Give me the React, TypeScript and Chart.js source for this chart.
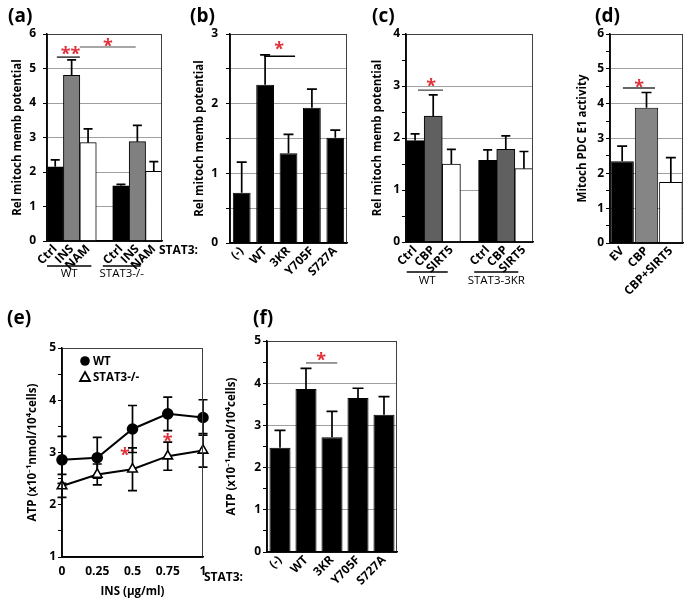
import React, { useEffect, useRef } from 'react';
import { Chart, registerables } from 'chart.js';

Chart.register(...registerables);

const FONT = '"Open Sans", Lato, "DejaVu Sans", sans-serif';
Chart.defaults.font.family = FONT;
Chart.defaults.color = '#000';

const BLACK = '#000000';
const WHITE = '#ffffff';
const GRAY_A = '#808080';
const GRAY_C = '#606060';
const GRAY_D = '#858585';
const RED = '#e0303a';
const GRID = '#a0a0a0';

// ---------- Panel (a)
const aLabels = ['Ctrl', 'INS', 'NAM', '', 'Ctrl', 'INS', 'NAM'];
const aMeans = [2.15, 4.8, 2.85, null, 1.6, 2.88, 2.02];
const aErr = [0.2, 0.45, 0.4, null, 0.04, 0.47, 0.28];
const aColors = [BLACK, GRAY_A, WHITE, WHITE, BLACK, GRAY_A, WHITE];
const aGroups = ['WT', 'STAT3-/-'];

// ---------- Panel (b)
const bLabels = ['(-)', 'WT', '3KR', 'Y705F', 'S727A'];
const bMeans = [0.72, 2.27, 1.29, 1.94, 1.51];
const bErr = [0.44, 0.43, 0.27, 0.27, 0.11];

// ---------- Panel (c)
const cLabels = ['Ctrl', 'CBP', 'SIRT5', '', 'Ctrl', 'CBP', 'SIRT5'];
const cMeans = [1.95, 2.42, 1.5, null, 1.57, 1.78, 1.41];
const cErr = [0.13, 0.41, 0.28, null, 0.2, 0.26, 0.33];
const cColors = [BLACK, GRAY_C, WHITE, WHITE, BLACK, GRAY_C, WHITE];
const cGroups = ['WT', 'STAT3-3KR'];

// ---------- Panel (d)
const dLabels = ['EV', 'CBP', 'CBP+SIRT5'];
const dMeans = [2.35, 3.88, 1.75];
const dErr = [0.43, 0.44, 0.7];
const dColors = [BLACK, GRAY_D, WHITE];

// ---------- Panel (e)
const eDose = [0, 0.25, 0.5, 0.75, 1];
const eDoseLabels = ['0', '0.25', '0.5', '0.75', '1'];
const eWT = [2.86, 2.9, 3.45, 3.74, 3.67];
const eWTErr = [0.45, 0.39, 0.45, 0.32, 0.34];
const eKO = [2.36, 2.58, 2.68, 2.93, 3.04];
const eKOErr = [0.22, 0.2, 0.41, 0.27, 0.32];
const eSeries = ['WT', 'STAT3-/-'];

// ---------- Panel (f)
const fLabels = ['(-)', 'WT', '3KR', 'Y705F', 'S727A'];
const fMeans = [2.47, 3.86, 2.72, 3.65, 3.25];
const fErr = [0.41, 0.49, 0.61, 0.23, 0.43];

const TICK_FONT = { size: 12, weight: 'bold' as const };
const TITLE_FONT = { size: 11.5, weight: 'bold' as const };

type Sig = { x1: number; x2: number; y: number; color: string };
type Star = { x: number; y: number; text: string };
type Group = { x1: number; x2: number; text: string };
type ErrSet = { ds: number; err: (number | null)[]; both: boolean; cap: number };
interface Decor {
  errors?: ErrSet[];
  errorsBefore?: boolean;
  sigs?: Sig[];
  stars?: Star[];
  groups?: Group[];
  groupLineDy?: number;
  groupTextDy?: number;
  prefix?: { text: string; dx: number; dy: number };
  legend?: { dx: number; dy: number; gap: number; items: { label: string; style: 'circle' | 'triangle' }[] };
}

function drawErrors(chart: any, sets: ErrSet[]) {
  const { ctx } = chart;
  const y = chart.scales.y;
  ctx.save();
  ctx.strokeStyle = '#000';
  ctx.lineWidth = 1.7;
  for (const s of sets) {
    const meta = chart.getDatasetMeta(s.ds);
    const data = chart.data.datasets[s.ds].data as any[];
    meta.data.forEach((el: any, i: number) => {
      const e = s.err[i];
      const raw = data[i];
      const v = raw == null ? null : typeof raw === 'number' ? raw : raw.y;
      if (e == null || v == null) return;
      const x = el.x;
      const yTop = y.getPixelForValue(v + e);
      const yBot = s.both ? y.getPixelForValue(v - e) : y.getPixelForValue(v);
      ctx.beginPath();
      ctx.moveTo(x, yBot);
      ctx.lineTo(x, yTop);
      ctx.moveTo(x - s.cap, yTop);
      ctx.lineTo(x + s.cap, yTop);
      if (s.both) {
        ctx.moveTo(x - s.cap, yBot);
        ctx.lineTo(x + s.cap, yBot);
      }
      ctx.stroke();
    });
  }
  ctx.restore();
}

function makeDecor(cfg: Decor) {
  return {
    id: 'decor',
    beforeDatasetsDraw(chart: any) {
      if (cfg.errors && cfg.errorsBefore) drawErrors(chart, cfg.errors);
    },
    afterDatasetsDraw(chart: any) {
      const { ctx, chartArea: a } = chart;
      const xs = chart.scales.x;
      const ys = chart.scales.y;
      if (cfg.errors && !cfg.errorsBefore) drawErrors(chart, cfg.errors);
      ctx.save();
      // frame
      ctx.strokeStyle = '#404040';
      ctx.lineWidth = 1;
      ctx.strokeRect(a.left, a.top + 0.5, a.right - a.left - 0.5, a.bottom - a.top);
      ctx.strokeStyle = '#000';
      ctx.lineWidth = 1.5;
      ctx.beginPath();
      ctx.moveTo(a.left, a.top);
      ctx.lineTo(a.left, a.bottom);
      ctx.lineTo(a.right, a.bottom);
      ctx.stroke();
      // significance lines
      for (const s of cfg.sigs || []) {
        const yy = ys.getPixelForValue(s.y);
        ctx.strokeStyle = s.color;
        ctx.lineWidth = 1.5;
        ctx.beginPath();
        ctx.moveTo(xs.getPixelForValue(s.x1), yy);
        ctx.lineTo(xs.getPixelForValue(s.x2), yy);
        ctx.stroke();
      }
      // stars
      ctx.fillStyle = RED;
      ctx.font = `bold 18px ${FONT}`;
      ctx.textAlign = 'center';
      ctx.textBaseline = 'alphabetic';
      for (const s of cfg.stars || []) {
        ctx.fillText(s.text, xs.getPixelForValue(s.x), ys.getPixelForValue(s.y) + 10);
      }
      // group labels below axis
      ctx.fillStyle = '#000';
      ctx.strokeStyle = '#000';
      ctx.lineWidth = 1.3;
      ctx.font = `11.5px ${FONT}`;
      ctx.textBaseline = 'middle';
      for (const g of cfg.groups || []) {
        const x1 = xs.getPixelForValue(g.x1);
        const x2 = xs.getPixelForValue(g.x2);
        const ly = a.bottom + (cfg.groupLineDy || 0);
        ctx.beginPath();
        ctx.moveTo(x1, ly);
        ctx.lineTo(x2, ly);
        ctx.stroke();
        ctx.fillText(g.text, (x1 + x2) / 2, a.bottom + (cfg.groupTextDy || 0));
      }
      if (cfg.prefix) {
        ctx.font = `bold 12px ${FONT}`;
        ctx.textAlign = 'right';
        ctx.fillText(cfg.prefix.text, a.left + cfg.prefix.dx, a.bottom + cfg.prefix.dy);
      }
      if (cfg.legend) {
        const L = cfg.legend;
        ctx.font = `bold 11.5px ${FONT}`;
        ctx.textAlign = 'left';
        L.items.forEach((it, i) => {
          const cx = a.left + L.dx;
          const cy = a.top + L.dy + i * L.gap;
          if (it.style === 'circle') {
            ctx.fillStyle = '#000';
            ctx.beginPath();
            ctx.arc(cx, cy, 4.8, 0, Math.PI * 2);
            ctx.fill();
          } else {
            ctx.fillStyle = '#fff';
            ctx.strokeStyle = '#000';
            ctx.lineWidth = 1.8;
            ctx.beginPath();
            ctx.moveTo(cx, cy - 5);
            ctx.lineTo(cx + 5, cy + 4);
            ctx.lineTo(cx - 5, cy + 4);
            ctx.closePath();
            ctx.fill();
            ctx.stroke();
          }
          ctx.fillStyle = '#000';
          ctx.fillText(it.label, cx + 8, cy + 1);
        });
      }
      ctx.restore();
    },
  };
}

type Box = { yW: number; xH: number; padTop: number; padRight: number };

function yAxis(opts: {
  min: number; max: number; step: number; gridEvery: number; title: string; titlePad: number; tickPad: number; yW: number;
}) {
  return {
    min: opts.min,
    max: opts.max,
    ticks: {
      stepSize: opts.step,
      autoSkip: false,
      padding: opts.tickPad,
      color: '#000',
      font: TICK_FONT,
      callback: (v: any) => (Number.isInteger(v) ? String(v) : ''),
    },
    grid: {
      color: (c: any) => {
        const v = c.tick ? c.tick.value : NaN;
        const r = v / opts.gridEvery;
        return Math.abs(r - Math.round(r)) < 1e-6 && v > opts.min && v < opts.max ? GRID : 'rgba(0,0,0,0)';
      },
      tickColor: '#000',
      tickLength: 4,
      lineWidth: 1,
    },
    border: { display: true, color: '#000', width: 1.5 },
    title: {
      display: true,
      text: opts.title,
      color: '#000',
      font: TITLE_FONT,
      padding: { top: opts.titlePad, bottom: 0 },
    },
    afterFit: (s: any) => {
      s.width = opts.yW;
    },
  };
}

function barConfig(p: {
  labels: string[];
  values: (number | null)[];
  colors: string[];
  err: (number | null)[];
  cap: number;
  yMax: number;
  step: number;
  gridEvery: number;
  title: string;
  titlePad: number;
  tickPad: number;
  box: Box;
  barPct: number;
  catPct: number;
  decor: Decor;
}) {
  const decor = { ...p.decor, errors: [{ ds: 0, err: p.err, both: false, cap: p.cap }] };
  return {
    type: 'bar' as const,
    data: {
      labels: p.labels,
      datasets: [
        {
          data: p.values,
          backgroundColor: p.colors,
          borderColor: '#000',
          borderWidth: 1,
          barPercentage: p.barPct,
          categoryPercentage: p.catPct,
        },
      ],
    },
    options: {
      responsive: false,
      animation: false as const,
      layout: { padding: { top: p.box.padTop, right: p.box.padRight, left: 0, bottom: 0 } },
      plugins: { legend: { display: false }, tooltip: { enabled: false } },
      scales: {
        x: {
          offset: true,
          grid: { display: false, drawTicks: false },
          border: { display: true, color: '#000', width: 1.5 },
          ticks: {
            autoSkip: false,
            maxRotation: 45,
            minRotation: 45,
            padding: 1,
            color: '#000',
            font: TICK_FONT,
          },
          afterFit: (s: any) => {
            s.height = p.box.xH;
          },
        },
        y: yAxis({
          min: 0,
          max: p.yMax,
          step: p.step,
          gridEvery: p.gridEvery,
          title: p.title,
          titlePad: p.titlePad,
          tickPad: p.tickPad,
          yW: p.box.yW,
        }),
      },
    },
    plugins: [makeDecor(decor)],
  };
}

function lineConfig() {
  const box: Box = { yW: 62, xH: 44, padTop: 48, padRight: 12 };
  return {
    type: 'line' as const,
    data: {
      datasets: [
        {
          label: eSeries[0],
          data: eDose.map((x, i) => ({ x, y: eWT[i] })),
          borderColor: '#000',
          borderWidth: 2,
          pointStyle: 'circle',
          pointRadius: 4.8,
          pointBackgroundColor: '#000',
          pointBorderColor: '#000',
          clip: false as const,
        },
        {
          label: eSeries[1],
          data: eDose.map((x, i) => ({ x, y: eKO[i] })),
          borderColor: '#000',
          borderWidth: 2,
          pointStyle: 'triangle',
          pointRadius: 5.5,
          pointBackgroundColor: '#fff',
          pointBorderColor: '#000',
          pointBorderWidth: 1.6,
          clip: false as const,
        },
      ],
    },
    options: {
      responsive: false,
      animation: false as const,
      layout: { padding: { top: box.padTop, right: box.padRight, left: 0, bottom: 0 } },
      plugins: { legend: { display: false }, tooltip: { enabled: false } },
      scales: {
        x: {
          type: 'linear' as const,
          min: 0,
          max: 1,
          grid: { display: false, drawTicks: false },
          border: { display: true, color: '#000', width: 1.5 },
          afterBuildTicks: (s: any) => {
            s.ticks = eDose.map((v) => ({ value: v }));
          },
          ticks: {
            autoSkip: false,
            padding: 7,
            color: '#000',
            font: TICK_FONT,
            callback: (v: any) => {
              const i = eDose.findIndex((d) => Math.abs(d - v) < 1e-9);
              return i >= 0 ? eDoseLabels[i] : '';
            },
          },
          title: {
            display: true,
            text: 'INS (µg/ml)',
            color: '#000',
            font: TITLE_FONT,
            padding: { top: 0, bottom: 2 },
          },
          afterFit: (s: any) => {
            s.height = box.xH;
          },
        },
        y: yAxis({
          min: 1,
          max: 5,
          step: 0.5,
          gridEvery: 100,
          title: 'ATP (x10⁻¹nmol/10⁴cells)',
          titlePad: 25.8,
          tickPad: 2,
          yW: box.yW,
        }),
      },
    },
    plugins: [
      makeDecor({
        errors: [
          { ds: 0, err: eWTErr, both: true, cap: 4.5 },
          { ds: 1, err: eKOErr, both: true, cap: 4.5 },
        ],
        errorsBefore: true,
        stars: [
          { x: 0.447, y: 3.02, text: '*' },
          { x: 0.75, y: 3.29, text: '*' },
        ],
        legend: {
          dx: 23,
          dy: 13,
          gap: 16,
          items: [
            { label: eSeries[0], style: 'circle' },
            { label: eSeries[1], style: 'triangle' },
          ],
        },
      }),
    ],
  };
}

function Panel(props: { left: number; top: number; width: number; height: number; make: () => any }) {
  const ref = useRef<HTMLCanvasElement>(null);
  useEffect(() => {
    const chart = new Chart(ref.current as HTMLCanvasElement, props.make());
    return () => chart.destroy();
  }, []);
  return (
    <div style={{ position: 'absolute', left: props.left, top: props.top, width: props.width, height: props.height }}>
      <canvas ref={ref} width={props.width} height={props.height} style={{ width: props.width, height: props.height }} />
    </div>
  );
}

const letterStyle = (left: number, top: number): React.CSSProperties => ({
  position: 'absolute',
  left,
  top,
  font: `bold 19px ${FONT}`,
  lineHeight: '22px',
  color: '#000',
});

export default function App() {
  return (
    <div style={{ position: 'fixed', left: 0, top: 0, width: 685, height: 601, background: '#fff', overflow: 'hidden' }}>
      <Panel
        left={0}
        top={0}
        width={168}
        height={290}
        make={() =>
          barConfig({
            labels: aLabels,
            values: aMeans,
            colors: aColors,
            err: aErr,
            cap: 4.5,
            yMax: 6,
            step: 1,
            gridEvery: 1,
            title: 'Rel mitoch memb potential',
            titlePad: 10.8,
            tickPad: 7,
            box: { yW: 47, xH: 49, padTop: 34, padRight: 6 },
            barPct: 1,
            catPct: 1,
            decor: {
              sigs: [
                { x1: 0.1, x2: 1.5, y: 5.33, color: '#333' },
                { x1: 1.5, x2: 4.9, y: 5.62, color: '#888' },
              ],
              stars: [
                { x: 0.93, y: 5.53, text: '**' },
                { x: 3.2, y: 5.78, text: '*' },
              ],
              groups: [
                { x1: -0.5, x2: 2.2, text: aGroups[0] },
                { x1: 2.9, x2: 5.2, text: aGroups[1] },
              ],
              groupLineDy: 25,
              groupTextDy: 33,
            },
          })
        }
      />
      <Panel
        left={155}
        top={0}
        width={195}
        height={290}
        make={() =>
          barConfig({
            labels: bLabels,
            values: bMeans,
            colors: bLabels.map(() => BLACK),
            err: bErr,
            cap: 5,
            yMax: 3,
            step: 0.5,
            gridEvery: 0.5,
            title: 'Rel mitoch memb potential',
            titlePad: 37.8,
            tickPad: 8,
            box: { yW: 75, xH: 47, padTop: 34, padRight: 3 },
            barPct: 0.76,
            catPct: 1,
            decor: {
              sigs: [{ x1: 0.95, x2: 2.28, y: 2.68, color: '#000' }],
              stars: [{ x: 1.6, y: 2.84, text: '*' }],
              prefix: { text: 'STAT3:', dx: -32, dy: 8 },
            },
          })
        }
      />
      <Panel
        left={335}
        top={0}
        width={202}
        height={300}
        make={() =>
          barConfig({
            labels: cLabels,
            values: cMeans,
            colors: cColors,
            err: cErr,
            cap: 4.5,
            yMax: 4,
            step: 0.5,
            gridEvery: 1,
            title: 'Rel mitoch memb potential',
            titlePad: 35.8,
            tickPad: 2,
            box: { yW: 71, xH: 58, padTop: 34, padRight: 4 },
            barPct: 1,
            catPct: 1,
            decor: {
              sigs: [{ x1: 0.16, x2: 1.54, y: 2.92, color: '#666' }],
              stars: [{ x: 0.88, y: 3.07, text: '*' }],
              groups: [
                { x1: -0.46, x2: 1.8, text: cGroups[0] },
                { x1: 3.26, x2: 5.69, text: cGroups[1] },
              ],
              groupLineDy: 30,
              groupTextDy: 39,
            },
          })
        }
      />
      <Panel
        left={540}
        top={0}
        width={145}
        height={300}
        make={() =>
          barConfig({
            labels: dLabels,
            values: dMeans,
            colors: dColors,
            err: dErr,
            cap: 5,
            yMax: 6,
            step: 0.5,
            gridEvery: 1,
            title: 'Mitoch PDC E1 activity',
            titlePad: 35.8,
            tickPad: 2,
            box: { yW: 70, xH: 57, padTop: 34, padRight: 2 },
            barPct: 1,
            catPct: 0.96,
            decor: {
              sigs: [{ x1: 0.03, x2: 1.35, y: 4.45, color: '#333' }],
              stars: [{ x: 0.7, y: 4.6, text: '*' }],
            },
          })
        }
      />
      <Panel left={0} top={300} width={215} height={301} make={lineConfig} />
      <Panel
        left={190}
        top={300}
        width={215}
        height={301}
        make={() =>
          barConfig({
            labels: fLabels,
            values: fMeans,
            colors: fLabels.map(() => BLACK),
            err: fErr,
            cap: 5.5,
            yMax: 5,
            step: 0.5,
            gridEvery: 1,
            title: 'ATP (x10⁻¹nmol/10⁴cells)',
            titlePad: 34.8,
            tickPad: 2,
            box: { yW: 77, xH: 49, padTop: 41, padRight: 8 },
            barPct: 0.81,
            catPct: 1,
            decor: {
              sigs: [{ x1: 1.0, x2: 2.2, y: 4.48, color: '#777' }],
              stars: [{ x: 1.58, y: 4.64, text: '*' }],
              prefix: { text: 'STAT3:', dx: -24, dy: 26 },
            },
          })
        }
      />
      <div style={letterStyle(8, 4)}>(a)</div>
      <div style={letterStyle(190, 4)}>(b)</div>
      <div style={letterStyle(372, 4)}>(c)</div>
      <div style={letterStyle(595, 4)}>(d)</div>
      <div style={letterStyle(7, 306)}>(e)</div>
      <div style={letterStyle(253, 306)}>(f)</div>
    </div>
  );
}
